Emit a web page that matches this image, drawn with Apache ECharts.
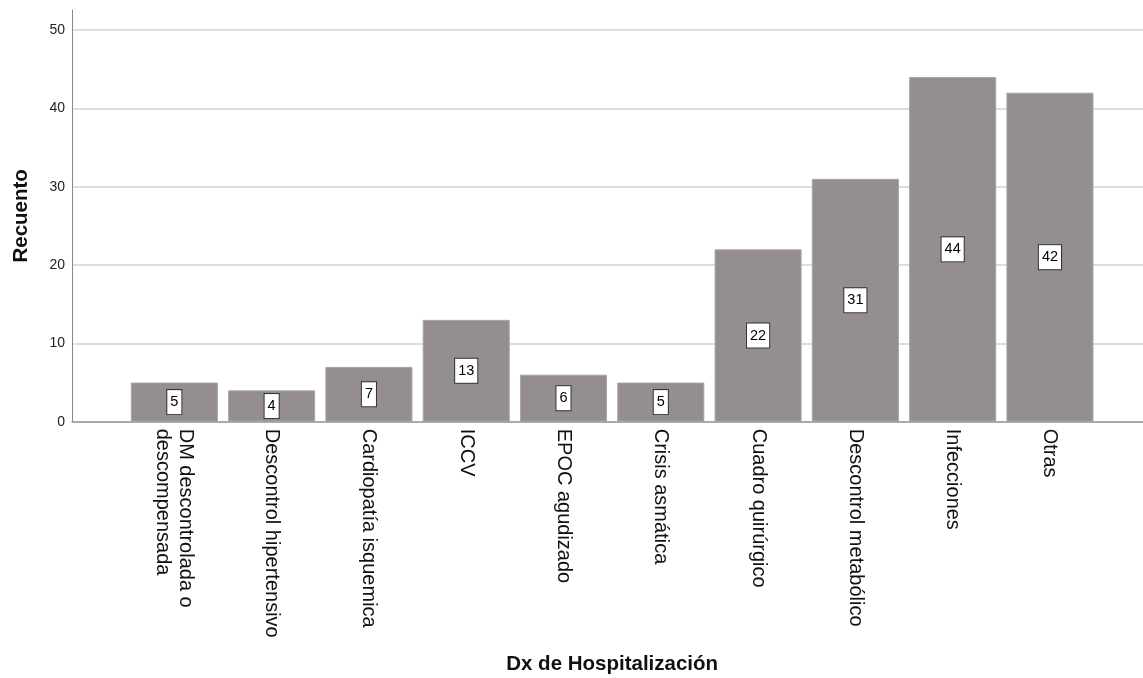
<!DOCTYPE html>
<html>
<head>
<meta charset="utf-8">
<script src="https://cdn.jsdelivr.net/npm/echarts@6/dist/echarts.min.js"></script>
<style>
  html, body { margin: 0; padding: 0; background: #fff; }
  #chart { width: 1143px; height: 678px; }
</style>
</head>
<body>
<div id="chart"></div>
<script>
// Hospitalisation diagnoses and their counts
const categories = [
  'DM descontrolada o\ndescompensada',
  'Descontrol hipertensivo',
  'Cardiopatía isquemica',
  'ICCV',
  'EPOC agudizado',
  'Crisis asmática',
  'Cuadro quirúrgico',
  'Descontrol metabólico',
  'Infecciones',
  'Otras'
];
const counts = [5, 4, 7, 13, 6, 5, 22, 31, 44, 42];
const yTicks = { min: 0, max: 50, step: 10 };

const FONT = '"Liberation Sans", Arial, Helvetica, sans-serif';
const plotTop = 30;
const plotHeight = 391.7;

const chart = echarts.init(document.getElementById('chart'), null, { renderer: 'canvas' });

chart.setOption({
  animation: false,
  backgroundColor: '#ffffff',
  textStyle: { fontFamily: FONT },
  grid: [
    // frame grid: y scale, gridlines and baseline
    { left: 72, right: 0, top: plotTop, height: plotHeight, outerBoundsMode: 'none' },
    // bar grid
    { left: 125.7, width: 972.9, top: plotTop, height: plotHeight, outerBoundsMode: 'none' },
    // vertical axis line extending above the top gridline
    { left: 72, width: 1, top: 10, height: plotHeight + plotTop - 10, outerBoundsMode: 'none' }
  ],
  xAxis: [
    {
      gridIndex: 0, type: 'value', min: 0, max: 1,
      axisLine: { show: true, onZero: false, lineStyle: { color: '#999', width: 1.5 } },
      axisTick: { show: false }, axisLabel: { show: false }, splitLine: { show: false }
    },
    {
      gridIndex: 1, type: 'category', data: categories,
      axisLine: { show: false }, axisTick: { show: false },
      axisLabel: {
        rotate: -90, interval: 0, margin: 7,
        fontSize: 20, lineHeight: 23, color: '#111', fontFamily: FONT
      },
      name: 'Dx de Hospitalización',
      nameLocation: 'middle', nameGap: 232,
      nameTextStyle: { fontSize: 20.5, fontWeight: 'bold', color: '#111', fontFamily: FONT }
    },
    {
      gridIndex: 2, type: 'value', min: 0, max: 1, show: false
    }
  ],
  yAxis: [
    {
      gridIndex: 0, type: 'value', min: yTicks.min, max: yTicks.max, interval: yTicks.step,
      axisLine: { show: false }, axisTick: { show: false },
      axisLabel: { fontSize: 14, color: '#222', margin: 7, fontFamily: FONT },
      splitLine: { show: true, lineStyle: { color: '#d2d2d2', width: 1.5 } }
    },
    {
      gridIndex: 1, type: 'value', min: yTicks.min, max: yTicks.max, interval: yTicks.step,
      show: false
    },
    {
      gridIndex: 2, type: 'value', min: 0, max: 1,
      axisLine: { show: true, lineStyle: { color: '#888', width: 1 } },
      axisTick: { show: false }, axisLabel: { show: false }, splitLine: { show: false },
      name: 'Recuento', nameLocation: 'middle', nameRotate: 90, nameGap: 40,
      nameTextStyle: { fontSize: 20.5, fontWeight: 'bold', color: '#111', fontFamily: FONT }
    }
  ],
  series: [
    {
      type: 'bar',
      xAxisIndex: 1, yAxisIndex: 1,
      data: counts,
      barCategoryGap: '10.5%',
      itemStyle: { color: '#948f8e', borderColor: '#aaa5a4', borderWidth: 1 },
      label: {
        show: true, position: 'inside', formatter: '{c}',
        fontSize: 14.5, lineHeight: 15, color: '#000', fontFamily: FONT,
        backgroundColor: '#ffffff', borderColor: '#333', borderWidth: 1,
        padding: [5, 3, 4, 3]
      }
    }
  ]
});
</script>
</body>
</html>
